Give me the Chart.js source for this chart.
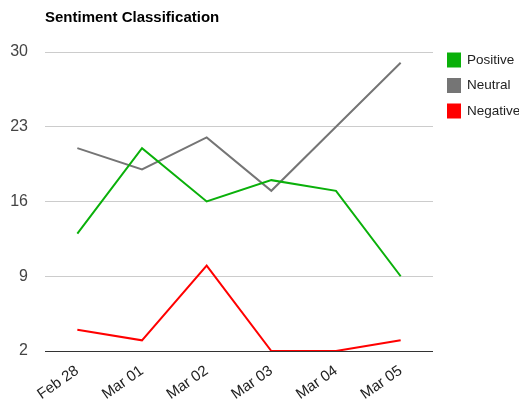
<!DOCTYPE html>
<html>
<head>
<meta charset="utf-8">
<script src="https://cdn.jsdelivr.net/npm/chart.js@4/dist/chart.umd.min.js"></script>
<style>
  html, body { margin: 0; padding: 0; background: #fff; }
  #wrap { width: 519px; height: 408px; }
</style>
</head>
<body>
<div id="wrap"><canvas id="chart" width="519" height="408"></canvas></div>
<script>
// chart data
const days = ['Feb 28', 'Mar 01', 'Mar 02', 'Mar 03', 'Mar 04', 'Mar 05'];
const positive = [13, 21, 16, 18, 17, 9];
const neutral = [21, 19, 22, 17, 23, 29];
const negative = [4, 3, 10, 2, 2, 3];
const yTicks = [2, 9, 16, 23, 30];

const FONT = "'Liberation Sans', Arial, sans-serif";

// title over the left edge of the plot + legend on the right
const decorPlugin = {
    id: 'decor',
    afterDraw(chart) {
        const ctx = chart.ctx;
        const area = chart.chartArea;
        ctx.save();
        ctx.font = 'bold 15px ' + FONT;
        ctx.fillStyle = '#000';
        ctx.textBaseline = 'middle';
        ctx.fillText('Sentiment Classification', area.left, 18);

        ctx.font = '13.5px ' + FONT;
        chart.data.datasets.forEach((ds, i) => {
            const cy = 60 + i * 25.5;
            ctx.fillStyle = ds.borderColor;
            ctx.fillRect(area.right + 14, cy - 7.5, 14, 15);
            ctx.fillStyle = '#222';
            ctx.fillText(ds.label, area.right + 34, cy);
        });
        ctx.restore();
    }
};

function line(label, data, color) {
    return {
        label: label,
        data: data,
        borderColor: color,
        backgroundColor: color,
        borderWidth: 2,
        pointRadius: 0,
        tension: 0,
        fill: false
    };
}

new Chart(document.getElementById('chart'), {
    type: 'line',
    data: {
        labels: days,
        datasets: [
            line('Positive', positive, '#0ab00a'),
            line('Neutral', neutral, '#757575'),
            line('Negative', negative, '#ff0000')
        ]
    },
    options: {
        responsive: false,
        animation: false,
        layout: { padding: { top: 52, left: 0, right: 86, bottom: 0 } },
        scales: {
            x: {
                offset: true,
                grid: { display: false },
                border: { display: false },
                afterFit(axis) {
                    axis.paddingLeft = 0;
                    axis.paddingRight = 0;
                    axis.height = 57;
                },
                ticks: {
                    color: '#222',
                    font: { family: FONT, size: 15 },
                    minRotation: 35,
                    maxRotation: 35,
                    padding: 3
                }
            },
            y: {
                min: 2,
                max: 30,
                afterBuildTicks(axis) {
                    axis.ticks = yTicks.map(v => ({ value: v }));
                },
                afterFit(axis) {
                    axis.width = 45;
                    axis.paddingTop = 0;
                    axis.paddingBottom = 0;
                },
                grid: {
                    drawTicks: false,
                    color: c => (c.tick && c.tick.value === 2) ? '#333' : '#ccc'
                },
                border: { display: false },
                ticks: {
                    color: '#444',
                    font: { family: FONT, size: 16 },
                    padding: 17
                }
            }
        },
        plugins: {
            legend: { display: false },
            tooltip: { enabled: false }
        }
    },
    plugins: [decorPlugin]
});
</script>
</body>
</html>
